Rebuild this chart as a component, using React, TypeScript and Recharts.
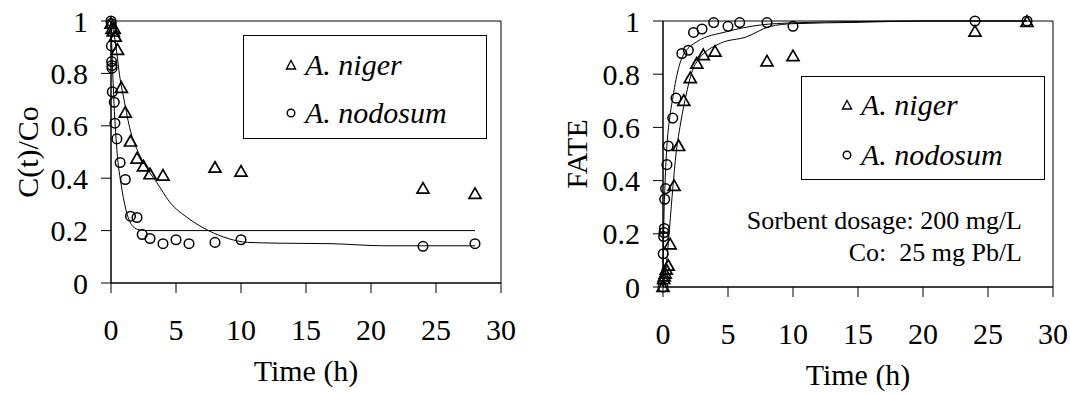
import React from 'react';
import {
  ComposedChart,
  Line,
  Scatter,
  XAxis,
  YAxis,
  Label,
  Legend,
  ReferenceLine,
} from 'recharts';

// Time ticks and value ticks shared by both panels
const TIME_TICKS = [0, 5, 10, 15, 20, 25, 30];
const VALUE_TICKS = [0, 0.2, 0.4, 0.6, 0.8, 1];

// Left panel: C(t)/Co measurements
const leftNigerTime = [0, 0.08, 0.17, 0.25, 0.33, 0.5, 0.8, 1.1, 1.5, 2, 2.5, 3, 4, 8, 10, 24, 28];
const leftNigerValue = [0.99, 0.97, 0.96, 0.97, 0.94, 0.89, 0.745, 0.65, 0.54, 0.475, 0.445, 0.415, 0.41, 0.44, 0.425, 0.36, 0.34];
const leftNodosumTime = [0, 0.02, 0.03, 0.05, 0.07, 0.08, 0.1, 0.25, 0.3, 0.45, 0.7, 1.1, 1.5, 2, 2.4, 3, 4, 5, 6, 8, 10, 24, 28];
const leftNodosumValue = [1.0, 0.99, 0.905, 0.845, 0.83, 0.82, 0.73, 0.69, 0.61, 0.55, 0.46, 0.395, 0.255, 0.25, 0.185, 0.17, 0.15, 0.165, 0.15, 0.155, 0.165, 0.14, 0.15];

// Left panel: fitted curves
const leftNigerFitTime = [0, 0.3, 0.7, 1, 1.5, 2, 2.5, 3, 3.5, 4.5, 6, 7.5, 9, 10.5, 13, 17, 21, 28];
const leftNigerFitValue = [1, 0.93, 0.78, 0.7, 0.58, 0.51, 0.46, 0.42, 0.385, 0.31, 0.245, 0.2, 0.17, 0.155, 0.152, 0.15, 0.142, 0.142];
const leftNodosumFitTime = [0, 0.1, 0.2, 0.45, 0.8, 1.2, 1.7, 2.2, 3, 28];
const leftNodosumFitValue = [1, 0.85, 0.72, 0.51, 0.37, 0.27, 0.215, 0.203, 0.2, 0.2];

// Right panel: FATE measurements
const rightNigerTime = [0, 0.05, 0.1, 0.17, 0.25, 0.4, 0.55, 0.85, 1.2, 1.6, 2.1, 2.6, 3.1, 4, 8, 10, 24, 28];
const rightNigerValue = [0, 0.03, 0.04, 0.05, 0.065, 0.08, 0.16, 0.38, 0.53, 0.7, 0.785, 0.84, 0.872, 0.885, 0.848, 0.868, 0.96, 0.997];
const rightNodosumTime = [0, 0.02, 0.05, 0.08, 0.1, 0.13, 0.2, 0.3, 0.4, 0.75, 1, 1.45, 1.95, 2.35, 3, 3.9, 5, 5.9, 8, 10, 24, 28];
const rightNodosumValue = [0, 0.125, 0.19, 0.205, 0.22, 0.33, 0.37, 0.46, 0.53, 0.635, 0.71, 0.878, 0.89, 0.957, 0.97, 0.994, 0.98, 0.994, 0.994, 0.98, 1.0, 1.0];

// Right panel: fitted curves
const rightNigerFitTime = [0, 0.25, 0.5, 0.75, 1, 1.3, 1.68, 2.45, 4.4, 6.4, 8.2, 10, 15, 20, 28];
const rightNigerFitValue = [0, 0.08, 0.22, 0.37, 0.5, 0.6, 0.7, 0.835, 0.916, 0.94, 0.979, 0.99, 0.995, 1.0, 1.0];
const rightNodosumFitTime = [0, 0.05, 0.15, 0.3, 0.5, 0.77, 1, 1.5, 2.6, 4.9, 7.5, 10, 15, 20, 28];
const rightNodosumFitValue = [0, 0.2, 0.38, 0.53, 0.63, 0.715, 0.78, 0.866, 0.922, 0.96, 0.985, 0.993, 0.998, 1.0, 1.0];

const SERIES_NAMES = ['A. niger', 'A. nodosum'];

const zip = (ts: number[], vs: number[]) => ts.map((t, i) => ({ t, v: vs[i] }));

const FONT = "'Liberation Serif', Tinos, 'Times New Roman', Times, 'DejaVu Serif', 'Noto Serif', serif";
const INK = '#000';

const TriangleMark = (props: any) => {
  const { cx, cy } = props;
  if (cx == null || cy == null) return null;
  return (
    <path
      d={`M${cx},${cy - 6} L${cx + 6},${cy + 4.5} L${cx - 6},${cy + 4.5} Z`}
      fill="none"
      stroke={INK}
      strokeWidth={1.7}
    />
  );
};

const CircleMark = (props: any) => {
  const { cx, cy } = props;
  if (cx == null || cy == null) return null;
  return <circle cx={cx} cy={cy} r={4.8} fill="none" stroke={INK} strokeWidth={1.5} />;
};

function legendBox(markerLeft: number, rowTops: number[]) {
  return (props: any) => {
    const items = (props.payload || []).filter((p: any) => p.type !== 'none');
    const names = items.length ? items.map((p: any) => p.value) : SERIES_NAMES;
    return (
      <div
        style={{
          position: 'relative',
          width: 244,
          height: 104,
          boxSizing: 'border-box',
          border: `1px solid ${INK}`,
          background: '#fff',
          fontFamily: FONT,
        }}
      >
        {names.map((name: string, i: number) => (
          <div
            key={name}
            style={{ position: 'absolute', left: markerLeft - 6, top: rowTops[i] - 17, height: 32, display: 'flex', alignItems: 'center' }}
          >
            <svg width={12} height={12} style={{ marginRight: 8 }}>
              {i === 0 ? (
                <path d="M6,1.5 L10.5,10 L1.5,10 Z" fill="none" stroke={INK} strokeWidth={1.4} />
              ) : (
                <circle cx={6} cy={6} r={3.8} fill="none" stroke={INK} strokeWidth={1.4} />
              )}
            </svg>
            <span style={{ fontStyle: 'italic', fontSize: 30, lineHeight: '32px', color: INK, fontFamily: FONT }}>{name}</span>
          </div>
        ))}
      </div>
    );
  };
}

const tickStyle = { fontSize: 30, fill: INK, fontFamily: FONT };

function Panel(props: {
  yLabel: string;
  yAxisWidth: number;
  yLabelOffset: number;
  marginRight: number;
  marginBottom: number;
  niger: { t: number; v: number }[];
  nodosum: { t: number; v: number }[];
  nigerFit: { t: number; v: number }[];
  nodosumFit: { t: number; v: number }[];
  legendLeft: number;
  legendTop: number;
  legendMarker: number;
  legendRows: number[];
}) {
  return (
    <ComposedChart
      width={530}
      height={394}
      margin={{ top: 21, right: props.marginRight, left: 0, bottom: props.marginBottom }}
      style={{ fontFamily: FONT }}
    >
      <XAxis
        type="number"
        dataKey="t"
        domain={[0, 30]}
        ticks={TIME_TICKS}
        interval={0}
        height={60}
        tick={tickStyle}
        tickSize={10}
        tickMargin={26}
        axisLine={{ stroke: INK, strokeWidth: 1.5 }}
        tickLine={{ stroke: INK, strokeWidth: 1 }}
      >
        <Label value="Time (h)" position="bottom" offset={17} style={{ fontSize: 30, fill: INK, fontFamily: FONT }} />
      </XAxis>
      <YAxis
        type="number"
        dataKey="v"
        domain={[0, 1]}
        ticks={VALUE_TICKS}
        interval={0}
        width={props.yAxisWidth}
        tick={tickStyle}
        tickSize={10}
        tickMargin={13}
        axisLine={{ stroke: INK, strokeWidth: 1.5 }}
        tickLine={{ stroke: INK, strokeWidth: 1 }}
      >
        <Label
          value={props.yLabel}
          angle={-90}
          position="insideLeft"
          offset={props.yLabelOffset}
          style={{ fontSize: 30, fill: INK, fontFamily: FONT, textAnchor: 'middle' }}
        />
      </YAxis>
      <ReferenceLine y={1} stroke={INK} strokeWidth={1} ifOverflow="extendDomain" />
      <ReferenceLine x={30} stroke={INK} strokeWidth={1} />
      <Line
        data={props.nigerFit}
        dataKey="v"
        type="monotone"
        stroke={INK}
        strokeWidth={1}
        dot={false}
        legendType="none"
        isAnimationActive={false}
      />
      <Line
        data={props.nodosumFit}
        dataKey="v"
        type="monotone"
        stroke={INK}
        strokeWidth={1}
        dot={false}
        legendType="none"
        isAnimationActive={false}
      />
      <Scatter name={SERIES_NAMES[0]} data={props.niger} shape={TriangleMark} isAnimationActive={false} />
      <Scatter name={SERIES_NAMES[1]} data={props.nodosum} shape={CircleMark} isAnimationActive={false} />
      <Legend
        verticalAlign="middle"
        align="center"
        content={legendBox(props.legendMarker, props.legendRows)}
        wrapperStyle={{ left: props.legendLeft, top: props.legendTop, width: 244, height: 104 }}
      />
    </ComposedChart>
  );
}

export default function App() {
  return (
    <div style={{ position: 'absolute', left: 0, top: 0, width: 1070, height: 394, background: '#fff', fontFamily: FONT }}>
      <div style={{ position: 'absolute', left: 0, top: 0 }}>
        <Panel
          yLabel="C(t)/Co"
          yAxisWidth={111}
          yLabelOffset={27}
          marginRight={29}
          marginBottom={51}
          niger={zip(leftNigerTime, leftNigerValue)}
          nodosum={zip(leftNodosumTime, leftNodosumValue)}
          nigerFit={zip(leftNigerFitTime, leftNigerFitValue)}
          nodosumFit={zip(leftNodosumFitTime, leftNodosumFitValue)}
          legendLeft={243}
          legendTop={35}
          legendMarker={47}
          legendRows={[30, 78]}
        />
      </div>
      <div style={{ position: 'absolute', left: 540, top: 0, width: 530, height: 394 }}>
        <Panel
          yLabel="FATE"
          yAxisWidth={123}
          yLabelOffset={36}
          marginRight={17}
          marginBottom={47}
          niger={zip(rightNigerTime, rightNigerValue)}
          nodosum={zip(rightNodosumTime, rightNodosumValue)}
          nigerFit={zip(rightNigerFitTime, rightNigerFitValue)}
          nodosumFit={zip(rightNodosumFitTime, rightNodosumFitValue)}
          legendLeft={261}
          legendTop={76}
          legendMarker={45}
          legendRows={[29, 79]}
        />
        <div
          style={{
            position: 'absolute',
            right: 48,
            top: 205,
            textAlign: 'right',
            fontSize: 26,
            lineHeight: '32px',
            whiteSpace: 'nowrap',
            color: INK,
            fontFamily: FONT,
          }}
        >
          <div>Sorbent dosage: 200 mg/L</div>
          <div>Co:&nbsp; 25 mg Pb/L</div>
        </div>
      </div>
    </div>
  );
}
